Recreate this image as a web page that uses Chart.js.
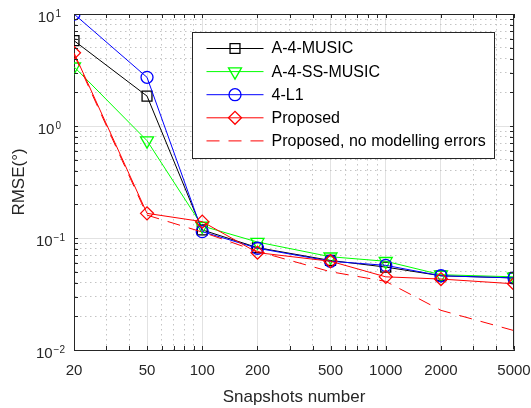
<!DOCTYPE html>
<html>
<head>
<meta charset="utf-8">
<script src="https://cdn.jsdelivr.net/npm/chart.js@4.4.0/dist/chart.umd.min.js"></script>
<style>
  html, body { margin: 0; padding: 0; background: #fff; }
</style>
</head>
<body>
<canvas id="rmseChart" width="531" height="408"></canvas>
<script>
// values
const snapshots = [20, 50, 100, 200, 500, 1000, 2000, 5000];
const music = [5.78, 1.85, 0.118, 0.082, 0.063, 0.055, 0.046, 0.044];
const ssMusic = [3.38, 0.74, 0.128, 0.092, 0.068, 0.062, 0.047, 0.045];
const l1 = [10.0, 2.72, 0.114, 0.081, 0.062, 0.057, 0.046, 0.044];
const proposed = [4.5, 0.166, 0.14, 0.074, 0.062, 0.045, 0.043, 0.039];
const proposedIdeal = [4.35, 0.16, 0.113, 0.076, 0.05, 0.041, 0.0226, 0.0149];

const xMajor = [20, 50, 100, 200, 500, 1000, 2000, 5000];
const xMinor = [30, 40, 60, 70, 80, 90, 300, 400, 600, 700, 800, 900, 3000, 4000];
const yMajor = [0.01, 0.1, 1, 10];
const yExp = ["-2", "-1", "0", "1"];
const yMant = [2, 3, 4, 5, 6, 7, 8, 9];

const FONT = "'Liberation Sans', Arial, Helvetica, sans-serif";
const AXIS_COLOR = "#262626";
Chart.defaults.font.family = FONT;
Chart.defaults.color = AXIS_COLOR;

function pts(vals) {
  return snapshots.map(function (x, i) { return { x: x, y: vals[i] }; });
}

function isMajorY(v) {
  let l = Math.log10(v);
  return Math.abs(l - Math.round(l)) < 1e-6;
}

function series(label, vals, color, style, radius, rotation, order, dash) {
  return {
    label: label,
    data: pts(vals),
    borderColor: color,
    backgroundColor: color,
    borderWidth: 1,
    borderDash: dash || [],
    pointStyle: style,
    pointRadius: radius,
    pointRotation: rotation,
    pointBorderColor: color,
    pointBackgroundColor: "rgba(0,0,0,0)",
    pointBorderWidth: 1.3,
    tension: 0,
    order: order,
  };
}

// top/right box, inner tick marks and y labels with exponents
const boxPlugin = {
  id: "boxPlugin",
  afterDraw(chart) {
    const ctx = chart.ctx;
    const a = chart.chartArea;
    const xs = chart.scales.x;
    const ys = chart.scales.y;
    ctx.save();
    ctx.strokeStyle = AXIS_COLOR;
    ctx.lineWidth = 1;
    ctx.beginPath();
    ctx.moveTo(Math.round(a.left) + 0.5, Math.round(a.top) + 0.5);
    ctx.lineTo(Math.round(a.right) - 0.5, Math.round(a.top) + 0.5);
    ctx.lineTo(Math.round(a.right) - 0.5, Math.round(a.bottom) - 0.5);
    ctx.stroke();

    ctx.beginPath();
    xs.ticks.forEach(function (t) {
      let px = Math.round(xs.getPixelForValue(t.value)) + 0.5;
      ctx.moveTo(px, a.bottom); ctx.lineTo(px, a.bottom - 4);
      ctx.moveTo(px, a.top); ctx.lineTo(px, a.top + 4);
    });
    ys.ticks.forEach(function (t) {
      let py = Math.round(ys.getPixelForValue(t.value)) + 0.5;
      ctx.moveTo(a.left, py); ctx.lineTo(a.left + 4, py);
      ctx.moveTo(a.right, py); ctx.lineTo(a.right - 4, py);
    });
    ctx.stroke();

    ctx.fillStyle = AXIS_COLOR;
    ctx.textBaseline = "alphabetic";
    ctx.textAlign = "left";
    yMajor.forEach(function (v, i) {
      let py = ys.getPixelForValue(v);
      let e = yExp[i].replace("-", "\u2212");
      ctx.font = "10px " + FONT;
      let we = ctx.measureText(e).width;
      ctx.font = "15px " + FONT;
      let wb = ctx.measureText("10").width;
      let right = e.length > 1 ? 65 : 61;
      let xb = right - we - 1 - wb;
      ctx.fillText("10", xb, py + 8);
      ctx.font = "10px " + FONT;
      ctx.fillText(e, xb + wb + 1, py + 3);
    });
    ctx.restore();
  },
};

// legend drawn inside the axes like the original
const legendBox = {
  id: "legendBox",
  afterDraw(chart) {
    const ctx = chart.ctx;
    const boxX = 192.5, boxY = 32.5, boxW = 302, boxH = 126;
    ctx.save();
    ctx.fillStyle = "#fff";
    ctx.fillRect(boxX, boxY, boxW, boxH);
    ctx.strokeStyle = AXIS_COLOR;
    ctx.lineWidth = 1;
    ctx.strokeRect(boxX, boxY, boxW, boxH);

    chart.data.datasets.forEach(function (ds, i) {
      let y = 48.5 + i * 23.1;
      ctx.strokeStyle = ds.borderColor;
      ctx.lineWidth = ds.borderWidth;
      ctx.setLineDash(ds.borderDash || []);
      ctx.beginPath();
      ctx.moveTo(206.5, y);
      ctx.lineTo(263.5, y);
      ctx.stroke();
      ctx.setLineDash([]);
      if (ds.pointRadius > 0) {
        ctx.fillStyle = "rgba(0,0,0,0)";
        ctx.lineWidth = ds.pointBorderWidth;
        Chart.helpers.drawPoint(ctx, {
          pointStyle: ds.pointStyle,
          radius: ds.pointRadius,
          rotation: ds.pointRotation,
          borderWidth: ds.pointBorderWidth,
        }, 235, y);
      }
      ctx.fillStyle = "#000";
      ctx.font = "16px " + FONT;
      ctx.textAlign = "left";
      ctx.textBaseline = "middle";
      ctx.fillText(ds.label, 271.5, y + 0.5);
    });
    ctx.restore();
  },
};

const rmseChart = new Chart(document.getElementById("rmseChart"), {
  type: "line",
  data: {
    datasets: [
      series("A-4-MUSIC", music, "#000000", "rect", 7, 0, 5),
      series("A-4-SS-MUSIC", ssMusic, "#00ff00", "triangle", 7.5, 180, 4),
      series("4-L1", l1, "#0000ff", "circle", 6, 0, 3),
      series("Proposed", proposed, "#ff0000", "rectRot", 6.5, 0, 2),
      series("Proposed, no modelling errors", proposedIdeal, "#ff0000", "circle", 0, 0, 1, [13, 9]),
    ],
  },
  options: {
    responsive: false,
    animation: false,
    layout: { padding: { left: 0, right: 17, top: 14, bottom: 0 } },
    plugins: { legend: { display: false }, tooltip: { enabled: false } },
    scales: {
      x: {
        type: "logarithmic",
        min: 20,
        max: 5000,
        afterBuildTicks: function (s) {
          s.ticks = xMajor.concat(xMinor).sort(function (a, b) { return a - b; })
            .map(function (v) { return { value: v }; });
        },
        afterFit: function (s) {
          s.height = 58;
          s.paddingLeft = 0;
          s.paddingRight = 0;
        },
        ticks: {
          autoSkip: false,
          maxRotation: 0,
          padding: 12,
          color: AXIS_COLOR,
          font: { size: 15 },
          callback: function (v) { return xMajor.includes(v) ? String(v) : ""; },
        },
        grid: {
          drawTicks: false,
          lineWidth: 1,
          color: function (c) {
            return c.tick && xMinor.includes(c.tick.value) ? "#c4c4c4" : "#e2e2e2";
          },
        },
        border: {
          color: AXIS_COLOR,
          width: 1,
          dash: function (c) {
            return c.tick && xMinor.includes(c.tick.value) ? [1.5, 3.5] : [];
          },
        },
        title: {
          display: true,
          text: "Snapshots number",
          color: AXIS_COLOR,
          font: { size: 17 },
          padding: { top: 0, bottom: 0 },
        },
      },
      y: {
        type: "logarithmic",
        min: 0.01,
        max: 10,
        afterBuildTicks: function (s) {
          let t = [];
          yMajor.forEach(function (m) {
            t.push({ value: m });
            if (m < 10) yMant.forEach(function (k) { t.push({ value: k * m }); });
          });
          s.ticks = t;
        },
        afterFit: function (s) {
          s.width = 74;
          s.paddingTop = 0;
          s.paddingBottom = 0;
        },
        ticks: { display: false },
        grid: {
          drawTicks: false,
          lineWidth: 1,
          color: function (c) {
            return c.tick && !isMajorY(c.tick.value) ? "#c4c4c4" : "#e2e2e2";
          },
        },
        border: {
          color: AXIS_COLOR,
          width: 1,
          dash: function (c) {
            return c.tick && !isMajorY(c.tick.value) ? [1.5, 3.5] : [];
          },
        },
        title: {
          display: true,
          text: "RMSE(°)",
          color: AXIS_COLOR,
          font: { size: 17 },
          padding: { top: 9, bottom: 0 },
        },
      },
    },
  },
  plugins: [boxPlugin, legendBox],
});
</script>
</body>
</html>
